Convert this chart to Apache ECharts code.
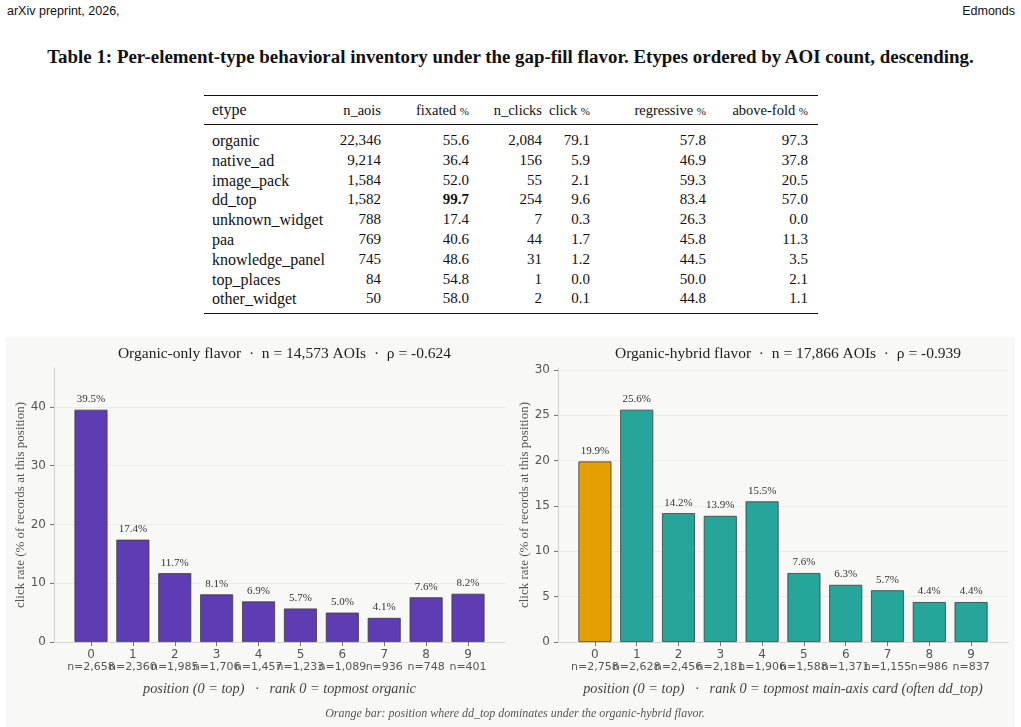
<!DOCTYPE html>
<html>
<head>
<meta charset="utf-8">
<script src="https://cdn.jsdelivr.net/npm/echarts@6/dist/echarts.min.js"></script>
<style>
  html, body { margin: 0; padding: 0; background: #fff; }
  body { width: 1021px; height: 727px; position: relative; overflow: hidden; }
  .hdr { position: absolute; top: 4px; font: 12.5px "Liberation Sans", sans-serif; color: #111; }
  #cap { position: absolute; top: 46px; left: 0; width: 1021px; text-align: center;
         font: bold 18.9px "Liberation Serif", serif; color: #111; }
  #tbl { position: absolute; left: 204px; top: 95px; border-collapse: collapse; table-layout: fixed;
         font: 15px "Liberation Serif", serif; color: #111; }
  #tbl thead tr { border-top: 1.5px solid #111; border-bottom: 1px solid #111; }
  #tbl tbody tr:last-child { border-bottom: 1.5px solid #111; }
  #tbl th { font-weight: normal; font-size: 14.5px; height: 28px; padding: 0; text-align: right; }
  #tbl td { padding: 0; text-align: right; line-height: 19.8px; }
  #tbl th:first-child, #tbl td:first-child { text-align: left; padding-left: 8px; font-size: 16px; }
  #tbl th:last-child, #tbl td:last-child { padding-right: 10px; }
  #tbl tbody tr:first-child td { padding-top: 6px; }
  #tbl tbody tr:last-child td { padding-bottom: 4px; }
  #tbl .pc { font-size: 11px; }
  #fig { position: absolute; left: 6px; top: 337px; width: 1009px; height: 390px; }
</style>
</head>
<body>
<div class="hdr" style="left:7px">arXiv preprint, 2026,</div>
<div class="hdr" style="right:6px">Edmonds</div>
<div id="cap">Table 1: Per-element-type behavioral inventory under the gap-fill flavor. Etypes ordered by AOI count, descending.</div>
<table id="tbl">
  <colgroup>
    <col style="width:131px"><col style="width:46px"><col style="width:88px"><col style="width:73px">
    <col style="width:48px"><col style="width:116px"><col style="width:112px">
  </colgroup>
  <thead><tr id="thead"></tr></thead>
  <tbody id="tbody"></tbody>
</table>
<div id="fig"></div>
<script>
// table 1
const tableHeader = ['etype', 'n_aois', 'fixated %', 'n_clicks', 'click %', 'regressive %', 'above-fold %']
const etypes = ['organic', 'native_ad', 'image_pack', 'dd_top', 'unknown_widget', 'paa', 'knowledge_panel', 'top_places', 'other_widget']
const nAois = ['22,346', '9,214', '1,584', '1,582', '788', '769', '745', '84', '50']
const fixatedPct = ['55.6', '36.4', '52.0', '99.7', '17.4', '40.6', '48.6', '54.8', '58.0']
const nClicks = ['2,084', '156', '55', '254', '7', '44', '31', '1', '2']
const clickPct = ['79.1', '5.9', '2.1', '9.6', '0.3', '1.7', '1.2', '0.0', '0.1']
const regressivePct = ['57.8', '46.9', '59.3', '83.4', '26.3', '45.8', '44.5', '50.0', '44.8']
const aboveFoldPct = ['97.3', '37.8', '20.5', '57.0', '0.0', '11.3', '3.5', '2.1', '1.1']
const boldCell = { row: 3, col: 2 }   // dd_top fixated %

// figure: click rate by position
const positions = [0, 1, 2, 3, 4, 5, 6, 7, 8, 9]
const organicRate = [39.5, 17.4, 11.7, 8.1, 6.9, 5.7, 5.0, 4.1, 7.6, 8.2]
const organicN = ['2,658', '2,360', '1,985', '1,706', '1,457', '1,233', '1,089', '936', '748', '401']
const hybridRate = [19.9, 25.6, 14.2, 13.9, 15.5, 7.6, 6.3, 5.7, 4.4, 4.4]
const hybridN = ['2,758', '2,628', '2,456', '2,181', '1,906', '1,588', '1,371', '1,155', '986', '837']
const hybridHighlight = [0]
const organicTicks = [0, 10, 20, 30, 40]
const hybridTicks = [0, 5, 10, 15, 20, 25, 30]

// build table
document.getElementById('thead').innerHTML = tableHeader.map(h => `<th>${h.replace('%', '<span class="pc">%</span>')}</th>`).join('')
let rowsHtml = ''
etypes.forEach((e, i) => {
    const cells = [e, nAois[i], fixatedPct[i], nClicks[i], clickPct[i], regressivePct[i], aboveFoldPct[i]]
    rowsHtml += '<tr>' + cells.map((c, j) => {
        const b = (i === boldCell.row && j === boldCell.col) ? ' style="font-weight:bold"' : ''
        return `<td${b}>${c}</td>`
    }).join('') + '</tr>'
})
document.getElementById('tbody').innerHTML = rowsHtml

const PURPLE = '#5e3db4', TEAL = '#26a69a', ORANGE = '#e69f00'
const serif = '"Liberation Serif", serif'
const sans = '"DejaVu Sans", sans-serif'
const evenPos = positions.filter(p => p % 2 === 0)
const oddPos = positions.filter(p => p % 2 === 1)

// the n= labels are wider than a band, so even and odd labels live on two
// overlaid axes; otherwise echarts drops the label next to the first one
function xAxisFor(idx, nArr, nameStr, labelPos, main) {
    return {
        type: 'value', gridIndex: idx, position: 'bottom', offset: 0, min: -0.883, max: 9.883,
        splitLine: { show: false },
        axisLine: { show: main, onZero: false, lineStyle: { color: '#d6d6d0', width: 1.2 } },
        axisTick: { show: main, customValues: positions, length: 4, lineStyle: { color: '#777' } },
        axisLabel: {
            customValues: labelPos, showMinLabel: true, showMaxLabel: true,
            color: '#555', fontFamily: sans, fontSize: 11, lineHeight: 13, margin: 6,
            formatter: v => `{a|${v}}\n{b|n=${nArr[v]}}`,
            rich: {
                a: { fontSize: 12, fontFamily: sans, color: '#555', lineHeight: 13 },
                b: { fontSize: 11, fontFamily: sans, color: '#555', lineHeight: 13 }
            }
        },
        name: main ? nameStr : '', nameLocation: 'middle', nameGap: 40,
        nameTextStyle: { fontFamily: serif, fontStyle: 'italic', fontSize: 14.3, color: '#444' }
    }
}
function yAxisFor(idx, maxV, ticks) {
    return {
        type: 'value', gridIndex: idx, min: 0, max: maxV,
        axisLine: { show: true, onZero: false, lineStyle: { color: '#d6d6d0', width: 1.2 } },
        axisTick: { show: true, customValues: ticks, length: 4, lineStyle: { color: '#777' } },
        axisLabel: { customValues: ticks, color: '#555', fontFamily: sans, fontSize: 12, margin: 8 },
        splitLine: { show: true, lineStyle: { color: '#ececea', width: 1 } },
        name: 'click rate (% of records at this position)', nameLocation: 'middle', nameGap: 25,
        nameTextStyle: { fontFamily: serif, fontSize: 13, color: '#555' }
    }
}
function barSeries(xIdx, yIdx, rates, baseColor, highlight) {
    return {
        type: 'bar', xAxisIndex: xIdx, yAxisIndex: yIdx, barWidth: 33,
        data: positions.map((p, i) => ({
            value: [p, rates[i]],
            itemStyle: { color: highlight.includes(i) ? ORANGE : baseColor }
        })),
        itemStyle: { borderColor: '#3b3b3b', borderWidth: 0.8 },
        label: {
            show: true, position: 'top', distance: 5,
            fontFamily: serif, fontSize: 11, color: '#333',
            formatter: p => p.value[1].toFixed(1) + '%'
        }
    }
}

const orgName = 'position (0 = top)   ·   rank 0 = topmost organic'
const hybName = 'position (0 = top)   ·   rank 0 = topmost main-axis card (often dd_top)'

const fig = echarts.init(document.getElementById('fig'))
fig.setOption({
    backgroundColor: '#f8f8f6',
    animation: false,
    title: [
        { text: 'Organic-only flavor  ·  n = 14,573 AOIs  ·  ρ = -0.624', left: 273.5, top: 4, textAlign: 'center',
          textStyle: { fontFamily: serif, fontSize: 15.5, fontWeight: 'normal', color: '#222' } },
        { text: 'Organic-hybrid flavor  ·  n = 17,866 AOIs  ·  ρ = -0.939', left: 777, top: 4, textAlign: 'center',
          textStyle: { fontFamily: serif, fontSize: 15.5, fontWeight: 'normal', color: '#222' } },
        { text: 'Orange bar: position where dd_top dominates under the organic-hybrid flavor.', left: 504, top: 366, textAlign: 'center',
          textStyle: { fontFamily: serif, fontSize: 12, fontStyle: 'italic', fontWeight: 'normal', color: '#555' } }
    ],
    grid: [
        { left: 48, right: 510, top: 31, bottom: 85 },
        { left: 552, right: 7, top: 31, bottom: 85 }
    ],
    xAxis: [
        xAxisFor(0, organicN, orgName, evenPos, true),
        xAxisFor(0, organicN, orgName, oddPos, false),
        xAxisFor(1, hybridN, hybName, evenPos, true),
        xAxisFor(1, hybridN, hybName, oddPos, false)
    ],
    yAxis: [yAxisFor(0, 46.6, organicTicks), yAxisFor(1, 30.2, hybridTicks)],
    series: [
        barSeries(0, 0, organicRate, PURPLE, []),
        barSeries(2, 1, hybridRate, TEAL, hybridHighlight)
    ]
})
</script>
</body>
</html>
